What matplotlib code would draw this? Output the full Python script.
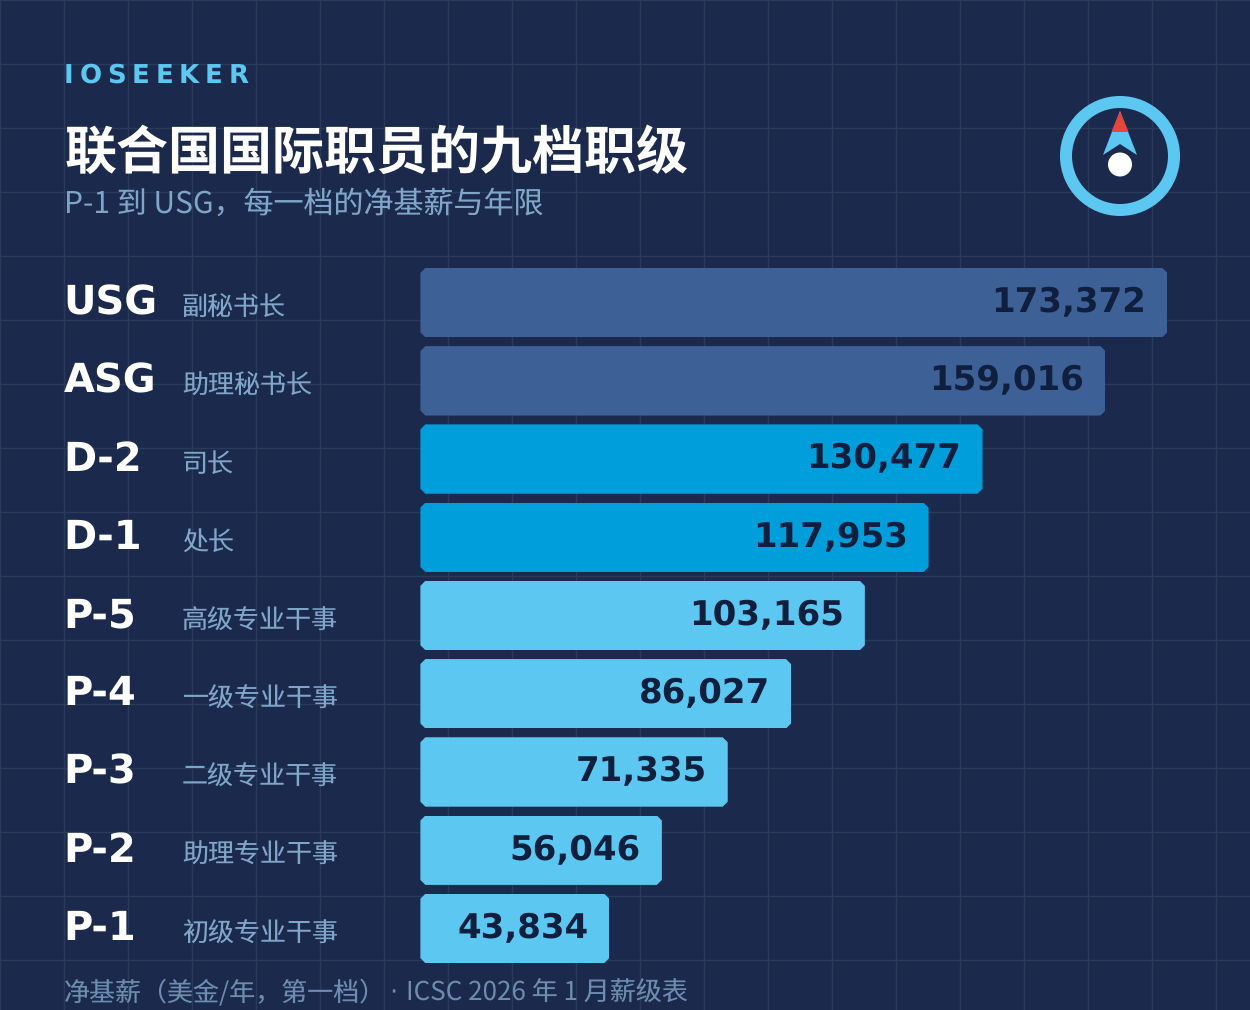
import matplotlib
matplotlib.use('Agg')
import matplotlib.pyplot as plt
from matplotlib.patches import Circle, Polygon, Wedge
import numpy as np

plt.rcParams['text.hinting'] = 'no_hinting'
plt.rcParams['text.hinting_factor'] = 1

# data
grades = ['USG', 'ASG', 'D-2', 'D-1', 'P-5', 'P-4', 'P-3', 'P-2', 'P-1']
names = ['副秘书长', '助理秘书长', '司长', '处长', '高级专业干事', '一级专业干事',
         '二级专业干事', '助理专业干事', '初级专业干事']
salaries = [173372, 159016, 130477, 117953, 103165, 86027, 71335, 56046, 43834]
bar_colors = ['#3d6096', '#3d6096', '#009edb', '#009edb', '#5cc8f2', '#5cc8f2',
              '#5cc8f2', '#5cc8f2', '#5cc8f2']

brand = 'IOSEEKER'
title = '联合国国际职员的九档职级'
subtitle = 'P-1 到 USG，每一档的净基薪与年限'
footer_left = '净基薪（美金/年，第一档）'
footer_dot = '·'
footer_right = 'ICSC 2026 年 1 月薪级表'

BG = '#1b2a4c'
GRID = '#2a3a5b'
CYAN = '#5cc8f2'
CJK = ['Noto Sans CJK SC', 'DejaVu Sans']
W, H = 1250, 1010


def px(size):
    # css pixels to points at dpi 100
    return size * 0.72


fig = plt.figure(figsize=(W / 100, H / 100), dpi=100, facecolor=BG)

# background axes in pixel coordinates
bg = fig.add_axes([0, 0, 1, 1])
bg.set_xlim(0, W)
bg.set_ylim(H, 0)
bg.axis('off')
for gx in range(0, W, 64):
    bg.axvline(gx, color=GRID, lw=1, zorder=0)
for gy in range(0, H, 64):
    bg.axhline(gy, color=GRID, lw=1, zorder=0)

# brand with letter spacing
renderer = fig.canvas.get_renderer()
cursor = 64
for letter in brand:
    t = bg.text(cursor, 83, letter, color=CYAN, fontsize=px(26), fontweight='bold',
                family='DejaVu Sans', va='baseline', ha='left')
    cursor += t.get_window_extent(renderer).width + 5.8

bg.text(64.5, 169, title, color='white', fontsize=px(52), fontweight='bold', family=CJK, va='baseline')
bg.text(63.5, 213, subtitle, color='#7fa6c9', fontsize=px(30), family=CJK, va='baseline')
bg.text(64, 1000.5, footer_left, color='#6c8cb0', fontsize=px(26), family=CJK, va='baseline')
bg.text(389.5, 1000.5, footer_dot, color='#6c8cb0', fontsize=px(26), family='DejaVu Sans', va='baseline')
bg.text(406, 1000.5, footer_right, color='#6c8cb0', fontsize=px(26), family=CJK, va='baseline')

# compass
bg.add_patch(Wedge((1120, 156), 60, 0, 360, width=12, color=CYAN, lw=0))
bg.add_patch(Polygon([(1120, 111), (1137, 155), (1120, 144), (1103, 155)], closed=True, color=CYAN, lw=0))
bg.add_patch(Polygon([(1120, 111), (1128.5, 132), (1111.5, 132)], closed=True, color='#e8443a', lw=0))
bg.add_patch(Circle((1120, 164.5), 12, color='white', lw=0))

# bars
row_top = 302.6
row_step = 78.23
x0 = 420.4
scale = (1167.3 - x0) / salaries[0]
ax = fig.add_axes([x0 / W, 1 - (row_top + row_step * 8.5) / H, (W - x0) / W, row_step * 9 / H])
ax.patch.set_alpha(0)
ax.axis('off')
ax.set_xlim(0, (W - x0) / scale)
ax.set_ylim(8.5, -0.5)

bar_h = 69.4 / row_step
bars = ax.barh(range(len(grades)), salaries, height=bar_h, color=bar_colors, lw=0)

# chamfer the corners
cx = 5 / scale
cy = 5 / row_step
for i, b in enumerate(bars):
    l, r = b.get_x(), b.get_x() + b.get_width()
    t, u = b.get_y(), b.get_y() + b.get_height()
    clip = Polygon([(l + cx, t), (r - cx, t), (r, t + cy), (r, u - cy),
                    (r - cx, u), (l + cx, u), (l, u - cy), (l, t + cy)],
                   closed=True, transform=ax.transData)
    b.set_clip_path(clip)
    ax.annotate(f'{salaries[i]:,}', (salaries[i], i), xytext=(-21 * 0.72, -9.5 * 0.72),
                textcoords='offset points', ha='right', va='baseline', color='#0f1f3d',
                fontsize=px(34.3), fontweight='bold', family='DejaVu Sans')
    yy = row_top + row_step * i
    bg.text(63.5, yy + 11.7, grades[i], color='white', fontsize=px(40.3), fontweight='bold',
            family='DejaVu Sans', va='baseline')
    bg.text(182, yy + 13, names[i], color='#7fa6c9', fontsize=px(26), family=CJK, va='baseline')

fig.savefig('out.png', dpi=100, facecolor=BG)
